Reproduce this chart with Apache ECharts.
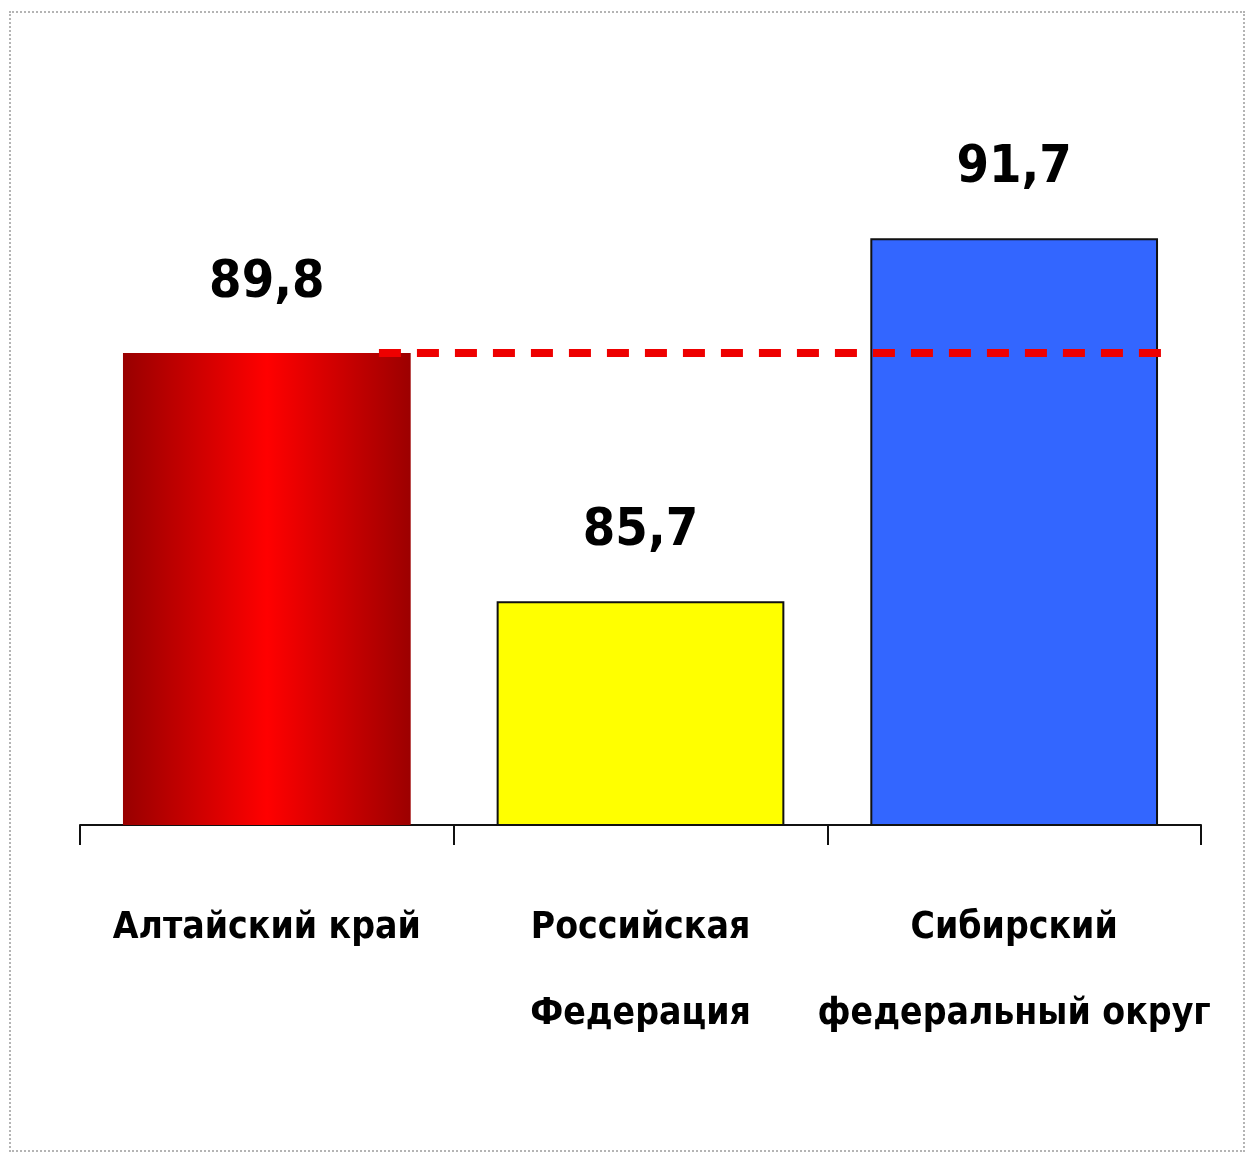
<!DOCTYPE html>
<html>
<head>
<meta charset="utf-8">
<script src="https://cdn.jsdelivr.net/npm/echarts@6/dist/echarts.min.js"></script>
<style>
    html, body { margin: 0; padding: 0; background: #fff; overflow: hidden; }
    #main { position: absolute; left: 0; top: 0; width: 1246px; height: 1153px; }
    #frame {
        position: absolute; left: 9px; top: 11px; width: 1232px; height: 1137px;
        border: 2px dotted #b4b4b4; pointer-events: none;
    }
</style>
</head>
<body>
<div id="main"></div>
<div id="frame"></div>
<script>
// данные диаграммы
var categories = ['Алтайский край', 'Российская\nФедерация', 'Сибирский\nфедеральный округ'];
var values = [89.8, 85.7, 91.7];
// пунктир на уровне края
var refValue = 89.8;
var refLineX = [0.8, 2.92];

var fontFam = '"Liberation Sans Narrow", "DejaVu Sans Condensed", "Arial Narrow", sans-serif';

var barColors = [
    {
        type: 'linear', x: 0, y: 0, x2: 1, y2: 0,
        colorStops: [
            { offset: 0, color: '#980000' },
            { offset: 0.5, color: '#ff0000' },
            { offset: 1, color: '#9c0000' }
        ]
    },
    '#ffff00',
    '#3366ff'
];

var barData = [];
for (var i = 0; i < values.length; i++) {
    barData.push({
        value: values[i],
        itemStyle: {
            color: barColors[i],
            borderColor: i == 0 ? 'transparent' : '#111',
            borderWidth: i == 0 ? 0 : 2
        }
    });
}

var myChart = echarts.init(document.getElementById('main'));
var option = {
    backgroundColor: '#fff',
    animation: false,
    grid: { left: 80, right: 45, top: 220, bottom: 328 },
    xAxis: [
        {
            type: 'category',
            data: categories,
            axisLine: { show: true, lineStyle: { color: '#111', width: 2 } },
            axisTick: { show: true, length: 20, alignWithLabel: false, lineStyle: { color: '#111', width: 2 } },
            axisLabel: {
                interval: 0,
                color: '#000',
                fontFamily: fontFam,
                fontWeight: 'bold',
                fontSize: 37,
                lineHeight: 86,
                margin: 60,
                verticalAlign: 'top'
            }
        },
        {
            type: 'value',
            min: 0,
            max: 3,
            show: false
        }
    ],
    yAxis: {
        type: 'value',
        min: 82,
        max: 92,
        show: false,
        splitLine: { show: false }
    },
    series: [
        {
            type: 'bar',
            xAxisIndex: 0,
            data: barData,
            barCategoryGap: '23%',
            label: {
                show: true,
                position: 'top',
                distance: 44,
                color: '#000',
                fontFamily: fontFam,
                fontWeight: 'bold',
                fontSize: 52,
                formatter: function (p) {
                    return String(p.value).replace('.', ',');
                }
            }
        },
        {
            type: 'line',
            xAxisIndex: 1,
            data: [[refLineX[0], refValue], [refLineX[1], refValue]],
            symbol: 'none',
            silent: true,
            z: 5,
            lineStyle: { color: '#ee0000', width: 8, type: [22, 16] }
        }
    ]
};
myChart.setOption(option);
</script>
</body>
</html>
